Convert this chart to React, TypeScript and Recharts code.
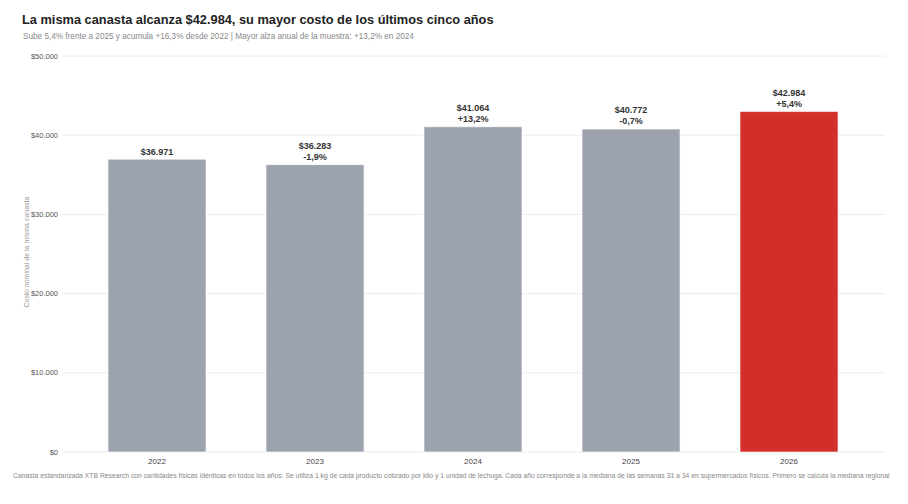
import { BarChart, Bar, XAxis, YAxis, CartesianGrid, Cell, LabelList } from "recharts";

const years = ["2022", "2023", "2024", "2025", "2026"];
const costs = [36971, 36283, 41064, 40772, 42984];
const changes = ["", "-1,9%", "+13,2%", "-0,7%", "+5,4%"];
const yTicks = [0, 10000, 20000, 30000, 40000, 50000];

const GREY = "#9ca3af";
const RED = "#d32f2a";
const FONT = "'Liberation Sans', Arial, sans-serif";

const data = years.map((year, i) => ({ year, cost: costs[i], change: changes[i] }));

const money = (v: number) => "$" + v.toLocaleString("de-DE");

const TopLabel = (props: any) => {
  const { x, y, width, index } = props;
  const cx = x + width / 2;
  const ch = changes[index];
  return (
    <g fontFamily={FONT} fontSize={9} fontWeight="bold" fill="#333" textAnchor="middle">
      {ch ? (
        <>
          <text x={cx} y={y - 16}>{money(costs[index])}</text>
          <text x={cx} y={y - 5}>{ch}</text>
        </>
      ) : (
        <text x={cx} y={y - 4}>{money(costs[index])}</text>
      )}
    </g>
  );
};

const App = () => {
  return (
    <div style={{ position: "absolute", left: 0, top: 0, width: 908, height: 504, background: "#fff", fontFamily: FONT }}>
      <div style={{ position: "absolute", left: 22, top: 12, fontSize: 12.8, fontWeight: "bold", color: "#222" }}>
        La misma canasta alcanza $42.984, su mayor costo de los últimos cinco años
      </div>
      <div style={{ position: "absolute", left: 23, top: 32, fontSize: 8.2, color: "#888" }}>
        Sube 5,4% frente a 2025 y acumula +16,3% desde 2022 | Mayor alza anual de la muestra: +13,2% en 2024
      </div>
      <div style={{ position: "absolute", left: 0, top: 0 }}>
        <BarChart width={908} height={470} data={data} margin={{ top: 56, right: 23, bottom: 0, left: 0 }} barCategoryGap="19%">
          <CartesianGrid vertical={false} stroke="#ececec" />
          <XAxis
            dataKey="year"
            axisLine={false}
            tickLine={false}
            tickSize={0}
            tickMargin={6}
            height={18}
            padding={{ left: 16, right: 17 }}
            tick={{ fontSize: 8, fill: "#444", fontFamily: FONT }}
          />
          <YAxis
            width={62}
            domain={[0, 50000]}
            ticks={yTicks}
            axisLine={false}
            tickLine={false}
            tickSize={0}
            tickMargin={4}
            tickFormatter={money}
            tick={{ fontSize: 7.5, fill: "#555", fontFamily: FONT }}
          />
          <Bar dataKey="cost" isAnimationActive={false} stroke="#ffffff" strokeWidth={0.6}>
            {data.map((d, i) => (
              <Cell key={d.year} fill={i === data.length - 1 ? RED : GREY} />
            ))}
            <LabelList dataKey="cost" content={TopLabel} />
          </Bar>
        </BarChart>
      </div>
      <svg width={60} height={504} style={{ position: "absolute", left: 0, top: 0 }}>
        <text x={29} y={252} transform="rotate(-90 29 252)" textAnchor="middle" fontSize={7} fill="#999" fontFamily={FONT}>
          Costo nominal de la misma canasta
        </text>
      </svg>
      <div style={{ position: "absolute", left: 13, top: 472, fontSize: 6.8, color: "#888", whiteSpace: "nowrap" }}>
        Canasta estandarizada XTB Research con cantidades físicas idénticas en todos los años. Se utiliza 1 kg de cada producto cotizado por kilo y 1 unidad de lechuga. Cada año corresponde a la mediana de las semanas 31 a 34 en supermercados físicos. Primero se calcula la mediana regional
      </div>
    </div>
  );
};

export default App;
